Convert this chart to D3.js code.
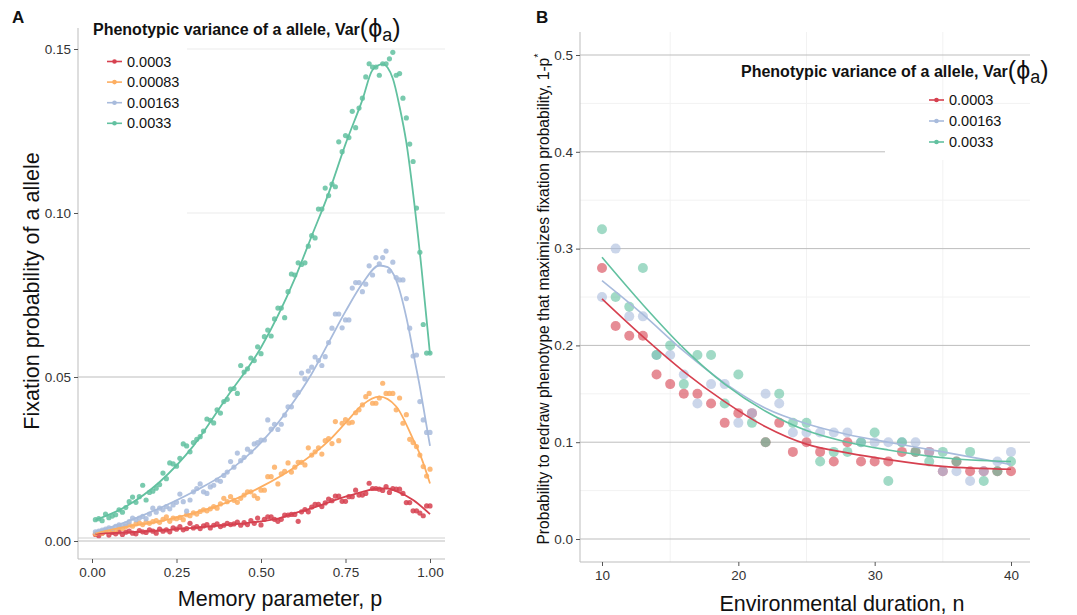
<!DOCTYPE html>
<html>
<head>
<meta charset="utf-8">
<script src="https://d3js.org/d3.v7.min.js"></script>
<style>
  body { margin: 0; background: #fff; }
  svg { font-family: "Liberation Sans", Arial, sans-serif; }
  .tick text { fill: #333; font-size: 13.5px; }
  .domain { stroke: #bdbdbd; }
  .tick line { stroke: #555; }
</style>
</head>
<body>
<svg id="chart" width="1077" height="615"></svg>
<script>
// ---------- data ----------
const seriesNames = ["0.0003", "0.00083", "0.00163", "0.0033"];
const seriesColors = ["#d6404f", "#fdae61", "#a8bbdc", "#62c1a0"];

// panel A: memory parameter p = 0.01 .. 1.00
const memP = d3.range(1, 101).map(i => i / 100);

const fixRed = [
  .0020, .0016, .0024, .0030, .0018, .0026, .0022, .0028, .0020, .0027,
  .0030, .0024, .0022, .0032, .0028, .0026, .0034, .0030, .0024, .0036,
  .0030, .0034, .0028, .0040, .0036, .0044, .0034, .0038, .0054, .0040,
  .0044, .0038, .0046, .0050, .0040, .0048, .0052, .0044, .0048, .0054,
  .0050, .0052, .0058, .0048, .0056, .0050, .0062, .0054, .0070, .0049,
  .0066, .0074, .0074, .0066, .0060, .0066, .0079, .0079, .0081, .0081,
  .0060, .0089, .0096, .0089, .0103, .0112, .0112, .0105, .0116, .0128,
  .0123, .0137, .0137, .0121, .0121, .0135, .0135, .0155, .0140, .0140,
  .0145, .0176, .0160, .0160, .0158, .0154, .0166, .0148, .0160, .0158,
  .0158, .0145, .0117, .0117, .0092, .0092, .0085, .0077, .0107, .0107
];
const fixOrange = [
  .0022, .0026, .0024, .0030, .0028, .0034, .0032, .0042, .0038, .0044,
  .0049, .0045, .0052, .0055, .0050, .0058, .0054, .0059, .0062, .0057,
  .0066, .0074, .0060, .0070, .0068, .0072, .0065, .0080, .0077, .0086,
  .0082, .0090, .0095, .0092, .0098, .0105, .0100, .0113, .0130, .0120,
  .0135, .0124, .0118, .0130, .0140, .0150, .0150, .0138, .0130, .0155,
  .0155, .0196, .0196, .0225, .0174, .0205, .0212, .0238, .0210, .0225,
  .0240, .0240, .0232, .0284, .0262, .0272, .0284, .0265, .0306, .0312,
  .0297, .0364, .0306, .0359, .0370, .0360, .0362, .0391, .0400, .0415,
  .0440, .0450, .0420, .0420, .0436, .0481, .0450, .0450, .0450, .0400,
  .0436, .0359, .0385, .0310, .0300, .0288, .0262, .0227, .0198, .0219
];
const fixBlue = [
  .0028, .0030, .0033, .0036, .0040, .0038, .0045, .0049, .0047, .0052,
  .0059, .0070, .0065, .0070, .0075, .0068, .0082, .0100, .0088, .0100,
  .0095, .0105, .0098, .0110, .0118, .0143, .0120, .0091, .0125, .0150,
  .0160, .0174, .0150, .0145, .0165, .0170, .0186, .0182, .0200, .0210,
  .0242, .0225, .0268, .0245, .0255, .0280, .0272, .0296, .0300, .0308,
  .0308, .0369, .0341, .0356, .0340, .0356, .0384, .0409, .0409, .0445,
  .0453, .0512, .0494, .0518, .0530, .0561, .0550, .0535, .0562, .0605,
  .0649, .0692, .0692, .0650, .0674, .0674, .0771, .0788, .0788, .0760,
  .0783, .0839, .0811, .0864, .0845, .0864, .0884, .0823, .0850, .0803,
  .0796, .0796, .0739, .0649, .0564, .0567, .0425, .0369, .0331, .0331
];
const fixGreen = [
  .0065, .0068, .0062, .0082, .0071, .0076, .0080, .0095, .0088, .0102,
  .0120, .0134, .0118, .0135, .0170, .0125, .0148, .0152, .0161, .0172,
  .0207, .0190, .0238, .0235, .0228, .0252, .0296, .0290, .0272, .0300,
  .0310, .0318, .0335, .0372, .0368, .0360, .0400, .0390, .0425, .0432,
  .0463, .0465, .0450, .0535, .0515, .0525, .0558, .0550, .0592, .0571,
  .0623, .0643, .0625, .0677, .0710, .0710, .0681, .0760, .0814, .0811,
  .0848, .0843, .0848, .0899, .0931, .0924, .1012, .1012, .1076, .1053,
  .1088, .1080, .1217, .1187, .1236, .1230, .1310, .1260, .1320, .1350,
  .1415, .1455, .1445, .1445, .1420, .1455, .1455, .1470, .1490, .1420,
  .1425, .1350, .1290, .1210, .1157, .1015, .0880, .0660, .0573, .0573
];

// panel A smoothed fits
const fitRedP    = [.01, .1, .2, .3, .4, .45, .5, .55, .6, .65, .7, .75, .8, .85, .875, .9, .95, 1];
const fitRed     = [.0022, .0026, .0032, .0040, .0049, .0054, .0060, .0068, .0085, .0100, .0118, .0135, .0150, .0160, .0160, .0152, .0125, .0082];
const fitOrangeP = [.01, .1, .2, .3, .4, .5, .6, .7, .75, .8, .85, .9, .95, .975, 1];
const fitOrange  = [.0024, .0043, .0060, .0085, .0118, .0165, .0225, .0305, .0360, .0415, .0440, .0410, .0310, .0252, .0175];
const fitBlueP   = [.01, .1, .2, .3, .4, .5, .6, .65, .7, .75, .8, .85, .875, .9, .936, .955, .97, .985, 1];
const fitBlue    = [.0028, .0058, .0100, .0150, .0210, .0300, .0430, .0510, .0605, .0700, .0785, .0840, .0835, .0795, .0653, .0550, .0470, .0380, .0290];
const fitGreenP  = [.01, .1, .2, .3, .4, .5, .6, .65, .7, .75, .8, .83, .86, .89, .91, .93, .95, .975, 1];
const fitGreen   = [.0064, .0105, .0180, .0290, .0440, .0590, .0800, .0930, .1060, .1210, .1345, .1436, .1454, .1410, .1324, .1215, .1060, .0830, .0570];

const fixTicksX = [0, 0.25, 0.5, 0.75, 1];
const fixTicksY = [0, 0.05, 0.10, 0.15];

// panel B: environmental duration n = 10 .. 40
const envN = d3.range(10, 41);
const redrawRed = [
  .28, .22, .21, .21, .17, .16, .15, .15, .14, .12,
  .13, .13, .10, .12, .09, .10, .09, .08, .10, .08,
  .08, .08, .09, .09, .09, .07, .08, .07, .07, .07, .07
];
const redrawBlue = [
  .25, .30, .23, .23, .19, .19, .17, .14, .16, .16,
  .12, .13, .15, .14, .11, .11, .11, .11, .11, .10,
  .10, .10, .10, .10, .09, .07, .07, .06, .07, .08, .09
];
const redrawGreen = [
  .32, .25, .24, .28, .19, .20, .16, .19, .19, .14,
  .17, .12, .10, .15, .12, .12, .08, .09, .09, .10,
  .11, .06, .10, .09, .08, .09, .08, .09, .06, .07, .08
];
const fitN = [10, 13, 16, 19, 22, 25, 28, 31, 35, 40];
const fitRedB   = [.248, .209, .173, .142, .116, .098, .089, .082, .075, .072];
const fitBlueB  = [.267, .232, .194, .161, .135, .119, .108, .100, .090, .077];
const fitGreenB = [.291, .242, .197, .160, .132, .112, .100, .092, .084, .080];

const envTicksX = [10, 20, 30, 40];
const envTicksY = [0, 0.1, 0.2, 0.3, 0.4, 0.5];

// ---------- drawing ----------
const svg = d3.select("#chart");

function legendTitle(g, x, y) {
  const t = g.append("text").attr("x", x).attr("y", y)
    .attr("font-size", 16).attr("font-weight", "bold").attr("fill", "#111");
  t.append("tspan").text("Phenotypic variance of a allele, Var");
  t.append("tspan").attr("font-size", 25).attr("font-weight", "normal").attr("dy", 2).text("(");
  t.append("tspan").attr("font-size", 25).attr("font-weight", "normal").text("\u03d5");
  t.append("tspan").attr("font-size", 18).attr("font-weight", "normal").attr("dy", 4).text("a");
  t.append("tspan").attr("font-size", 25).attr("font-weight", "normal").attr("dy", -4).text(")");
}

function legendItems(g, x, y, step, idx) {
  idx.forEach((k, i) => {
    const yy = y + i * step;
    g.append("line").attr("x1", x).attr("x2", x + 15).attr("y1", yy).attr("y2", yy)
      .attr("stroke", seriesColors[k]).attr("stroke-width", 1.6);
    g.append("circle").attr("cx", x + 7.5).attr("cy", yy).attr("r", 2.3).attr("fill", seriesColors[k]);
    g.append("text").attr("x", x + 20).attr("y", yy + 5).attr("font-size", 14.5)
      .attr("fill", "#111").text(seriesNames[k]);
  });
}

// ===== Panel A =====
(function() {
  const left = 78, right = 445, top = 28, bottom = 559;
  const x = d3.scaleLinear().domain([0, 1]).range([92, 430]);
  const y = d3.scaleLinear().domain([0, 0.15]).range([541, 49]);
  const g = svg.append("g");

  // grid
  fixTicksY.forEach(v => {
    g.append("line").attr("x1", left).attr("x2", right).attr("y1", y(v)).attr("y2", y(v))
      .attr("stroke", v >= 0.1 ? "#ebebeb" : "#bdbdbd").attr("stroke-width", 1);
  });
  g.append("line").attr("x1", left).attr("x2", right).attr("y1", y(0) - 3).attr("y2", y(0) - 3)
    .attr("stroke", "#cfcfcf");

  // legend background
  g.append("rect").attr("x", left + 1).attr("y", top).attr("width", 108).attr("height", 190)
    .attr("fill", "#fff");

  const series = [fixRed, fixOrange, fixBlue, fixGreen];
  const fitsP = [fitRedP, fitOrangeP, fitBlueP, fitGreenP];
  const fits = [fitRed, fitOrange, fitBlue, fitGreen];

  series.forEach((vals, k) => {
    g.append("g").selectAll("circle").data(vals).join("circle")
      .attr("cx", (d, i) => x(memP[i])).attr("cy", d => y(d)).attr("r", 2.6)
      .attr("fill", seriesColors[k]).attr("fill-opacity", 0.85);
  });
  const line = d3.line().curve(d3.curveMonotoneX);
  fits.forEach((vals, k) => {
    g.append("path").attr("d", line(vals.map((v, i) => [x(fitsP[k][i]), y(v)])))
      .attr("fill", "none").attr("stroke", seriesColors[k]).attr("stroke-width", 1.8);
  });

  // axes
  const ax = g.append("g").attr("transform", `translate(0,${bottom})`)
    .call(d3.axisBottom(x).tickValues(fixTicksX).tickFormat(d3.format(".2f")).tickSize(4).tickSizeOuter(0));
  ax.select(".domain").attr("d", `M${left},0H${right}`);
  ax.selectAll(".tick text").attr("dy", "0.8em");
  const ay = g.append("g").attr("transform", `translate(${left},0)`)
    .call(d3.axisLeft(y).tickValues(fixTicksY).tickFormat(d3.format(".2f")).tickSize(4).tickSizeOuter(0));
  ay.select(".domain").attr("d", `M0,${top}V${bottom}`);

  g.append("text").attr("x", 280).attr("y", 606).attr("text-anchor", "middle")
    .attr("font-size", 21.5).attr("fill", "#111").text("Memory parameter, p");
  g.append("text").attr("transform", "translate(39,291) rotate(-90)").attr("text-anchor", "middle")
    .attr("font-size", 21.5).attr("fill", "#111").text("Fixation probability of a allele");

  legendTitle(g, 93, 35);
  legendItems(g, 107, 61.5, 20.6, [0, 1, 2, 3]);

  svg.append("text").attr("x", 12).attr("y", 23).attr("font-size", 17).attr("font-weight", "bold")
    .attr("fill", "#111").text("A");
})();

// ===== Panel B =====
(function() {
  const left = 580, right = 1030, top = 32, bottom = 562;
  const x = d3.scaleLinear().domain([10, 40]).range([602, 1011]);
  const y = d3.scaleLinear().domain([0, 0.5]).range([539, 55]);
  const g = svg.append("g");

  // minor grid
  [15, 25, 35].forEach(v => {
    g.append("line").attr("x1", x(v)).attr("x2", x(v)).attr("y1", top).attr("y2", bottom)
      .attr("stroke", "#f2f2f2");
  });
  [0.05, 0.15, 0.25, 0.35, 0.45].forEach(v => {
    g.append("line").attr("x1", left).attr("x2", right).attr("y1", y(v)).attr("y2", y(v))
      .attr("stroke", "#f2f2f2");
  });
  envTicksY.forEach(v => {
    g.append("line").attr("x1", left).attr("x2", right).attr("y1", y(v)).attr("y2", y(v))
      .attr("stroke", "#bdbdbd");
  });

  // legend background
  g.append("rect").attr("x", 885).attr("y", 110).attr("width", 150).attr("height", 50)
    .attr("fill", "#fff");

  const series = [[redrawRed, 0], [redrawBlue, 2], [redrawGreen, 3]];
  series.forEach(([vals, k]) => {
    g.append("g").selectAll("circle").data(vals).join("circle")
      .attr("cx", (d, i) => x(envN[i])).attr("cy", d => y(d)).attr("r", 5)
      .attr("fill", seriesColors[k]).attr("fill-opacity", 0.6);
  });
  const line = d3.line().curve(d3.curveMonotoneX);
  [[fitRedB, 0], [fitBlueB, 2], [fitGreenB, 3]].forEach(([vals, k]) => {
    g.append("path").attr("d", line(vals.map((v, i) => [x(fitN[i]), y(v)])))
      .attr("fill", "none").attr("stroke", seriesColors[k]).attr("stroke-width", 1.6);
  });

  const ax = g.append("g").attr("transform", `translate(0,${bottom})`)
    .call(d3.axisBottom(x).tickValues(envTicksX).tickSize(4).tickSizeOuter(0));
  ax.select(".domain").attr("d", `M${left},0H${right}`);
  ax.selectAll(".tick text").attr("dy", "0.8em");
  const ay = g.append("g").attr("transform", `translate(${left},0)`)
    .call(d3.axisLeft(y).tickValues(envTicksY).tickFormat(d3.format(".1f")).tickSize(4).tickSizeOuter(0));
  ay.select(".domain").attr("d", `M0,${top}V${bottom}`);

  g.append("text").attr("x", 842).attr("y", 611).attr("text-anchor", "middle")
    .attr("font-size", 21.5).attr("fill", "#111").text("Environmental duration, n");
  const yt = g.append("text").attr("transform", "translate(549,299) rotate(-90)").attr("text-anchor", "middle")
    .attr("font-size", 15.6).attr("fill", "#111");
  yt.append("tspan").text("Probability to redraw phenotype that maximizes fixation probability, 1-p");
  yt.append("tspan").attr("dy", -7).attr("font-size", 11).text("*");

  legendTitle(g, 741, 77);
  legendItems(g, 929, 100, 21, [0, 2, 3]);

  svg.append("text").attr("x", 536).attr("y", 23).attr("font-size", 17).attr("font-weight", "bold")
    .attr("fill", "#111").text("B");
})();
</script>
</body>
</html>
